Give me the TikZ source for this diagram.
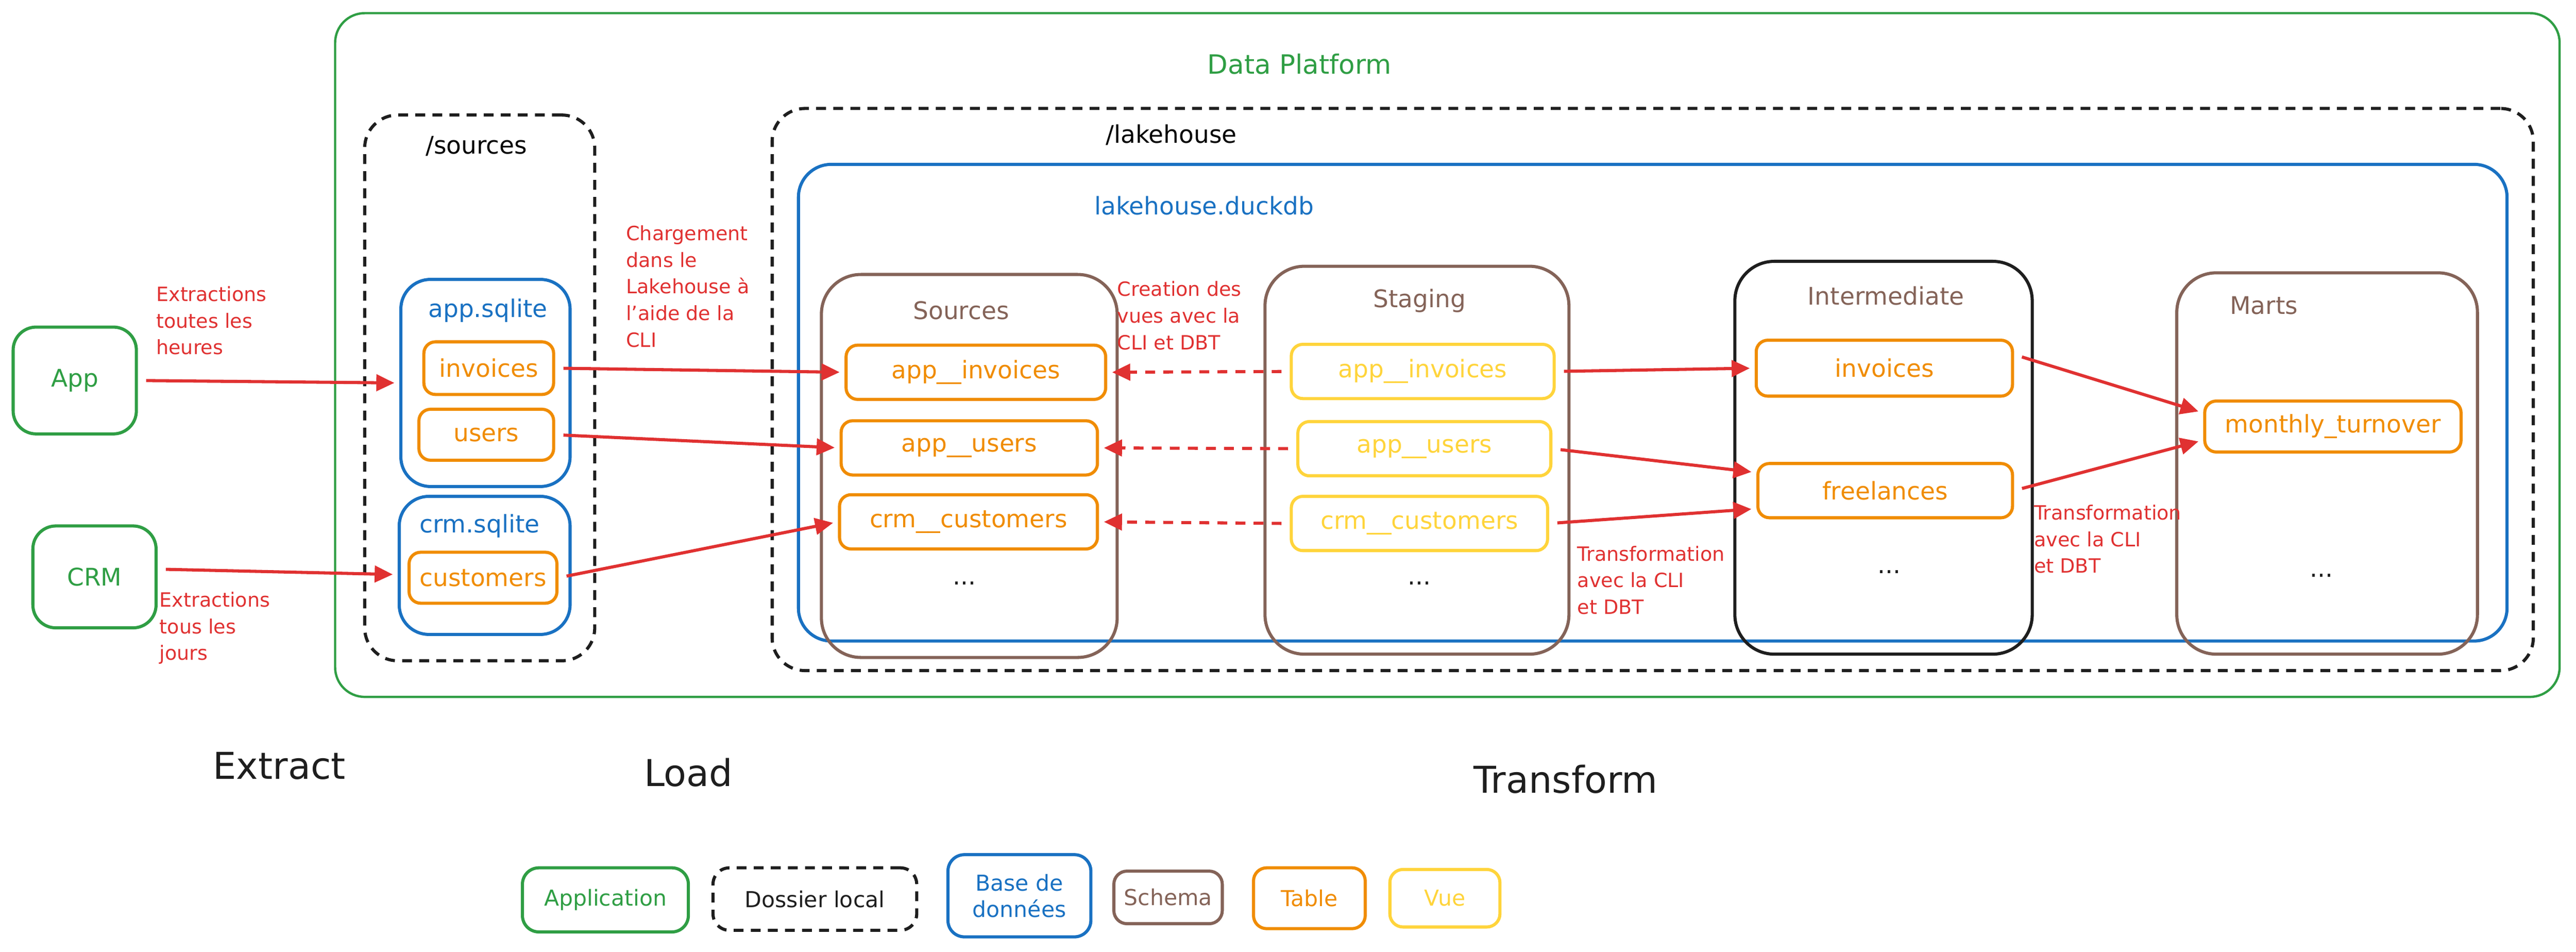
\documentclass[tikz,border=0pt]{standalone}
\usepackage{fontspec}
\setmainfont{DejaVu Sans}
\usepackage{xcolor}
\usepackage{tikz}
\usetikzlibrary{arrows.meta}
\definecolor{cVert}{HTML}{2F9E44}
\definecolor{cBleu}{HTML}{1971C2}
\definecolor{cOrange}{HTML}{F08C00}
\definecolor{cJaune}{HTML}{FFD43B}
\definecolor{cBrun}{HTML}{846358}
\definecolor{cRouge}{HTML}{E03131}
\definecolor{cNoir}{HTML}{1E1E1E}
\newcommand{\fTab}{\fontsize{21}{25}\selectfont}
\newcommand{\fTitre}{\fontsize{21}{25}\selectfont}
\newcommand{\fNote}{\fontsize{17}{23.1}\selectfont}
\newcommand{\fEtape}{\fontsize{32}{38}\selectfont}
\newcommand{\fLeg}{\fontsize{19}{23}\selectfont}
\tikzset{
  boite/.style = {rectangle, align=center, inner sep=0pt, text centered,
    line width=2.7pt, font=\fTab},
  bx_app/.style = {boite, draw=cVert, text=cVert,
    rounded corners=7mm},% application
  bx_dos/.style = {boite, draw=cNoir, text=cNoir,
    dash pattern=on 3mm off 2.2mm, rounded corners=10mm},% dossier local
  bx_bdd/.style = {boite, draw=cBleu, text=cBleu,
    rounded corners=9mm},% base de donnees
  bx_sch/.style = {boite, draw=cBrun, text=cBrun,
    rounded corners=12mm},% schema
  bx_int/.style = {bx_sch, draw=cNoir},% schema intermediate
  bx_tab/.style = {boite, draw=cOrange, text=cOrange,
    rounded corners=3.5mm, minimum height=16.5mm},% table
  bx_vue/.style = {boite, draw=cJaune, text=cJaune,
    rounded corners=3.5mm, minimum height=16.5mm},% vue
  lbl/.style = {inner sep=0pt, font=\fTitre},
  note/.style = {inner sep=0pt, align=left, anchor=north west,
    text=cRouge, font=\fNote},
  etape/.style = {inner sep=0pt, text=cNoir, font=\fEtape},
  fl/.style = {->, draw=cRouge, line width=2.7pt,
    shorten <=2.5mm, shorten >=1.5mm},% chargement / transformation
  fl_v/.style = {fl, dash pattern=on 3mm off 2.5mm}% creation des vues
}

\begin{document}
\begin{tikzpicture}[x=0.5mm,y=-0.5mm,>={Triangle[length=5.5mm,width=5mm]}]
\useasboundingbox (0,0) rectangle (1568,579);

% conteneurs
\node [bx_app, line width=2pt, rounded corners=9mm, minimum width=677mm,
  minimum height=208mm] (plateforme) at (881,216) {};
\node [lbl, text=cVert, font=\fontsize{23}{27}\selectfont] (plateforme_t)
  at (791,39) {Data Platform};
\node [bx_dos, minimum width=70mm, minimum height=166mm] (sources) at (292,236) {};
\node [lbl] (sources_t) at (290,89) {/sources};
\node [bx_dos, minimum width=536mm, minimum height=171mm] (lakehouse) at (1006,237) {};
\node [lbl] (lakehouse_t) at (713,82) {/lakehouse};
\node [bx_bdd, rounded corners=10mm, minimum width=520mm,
  minimum height=145mm] (duckdb) at (1006,245) {};
\node [lbl, text=cBleu] (duckdb_t) at (733,125) {lakehouse.duckdb};

% applications
\node [bx_app, minimum width=37.5mm, minimum height=32.5mm] (app) at (45.5,231.5) {App};
\node [bx_app, minimum width=37.5mm, minimum height=31mm] (crm) at (57.5,351) {CRM};

% bases sqlite
\node [bx_bdd, minimum width=51.5mm, minimum height=63mm] (appdb) at (295.5,233) {};
\node [lbl, text=cBleu] (appdb_t) at (297,189) {app.sqlite};
\node [bx_tab, minimum width=39.5mm, minimum height=16mm] (appdb_inv) at (297.5,224) {invoices};
\node [bx_tab, minimum width=41mm, minimum height=15.5mm] (appdb_usr) at (296,264.5) {users};
\node [bx_bdd, minimum width=52mm, minimum height=42mm] (crmdb) at (295,344) {};
\node [lbl, text=cBleu] (crmdb_t) at (292,320) {crm.sqlite};
\node [bx_tab, minimum width=45mm, minimum height=15.5mm] (crmdb_cus) at (294,351.5) {customers};

% schemas du lakehouse
\node [bx_sch, minimum width=90mm, minimum height=116.5mm] (src) at (590,283.5) {};
\node [lbl, text=cBrun] (src_t) at (585,189) {Sources};
\node [bx_tab, minimum width=79mm] (src_inv) at (594,226.5) {app\_\_invoices};
\node [bx_tab, minimum width=78mm] (src_usr) at (590,272.5) {app\_\_users};
\node [bx_tab, minimum width=78.5mm] (src_cus) at (589.5,317.5) {crm\_\_customers};
\node [lbl, text=cNoir] (src_d) at (587,355) {...};

\node [bx_sch, minimum width=92.5mm, minimum height=118mm] (stg) at (862.5,280) {};
\node [lbl, text=cBrun] (stg_t) at (864,183) {Staging};
\node [bx_vue, minimum width=80mm] (stg_inv) at (866,226) {app\_\_invoices};
\node [bx_vue, minimum width=77mm] (stg_usr) at (867,273) {app\_\_users};
\node [bx_vue, minimum width=78mm] (stg_cus) at (864,318.5) {crm\_\_customers};
\node [lbl, text=cNoir] (stg_d) at (864,355) {...};

\node [bx_int, minimum width=90.5mm, minimum height=119.5mm] (int) at (1146.5,278.5) {};
\node [lbl, text=cBrun] (int_t) at (1148,180) {Intermediate};
\node [bx_tab, minimum width=78mm, minimum height=17mm] (int_inv) at (1147,224) {invoices};
\node [bx_tab, minimum width=77.5mm] (int_fre) at (1147.5,298.5) {freelances};
\node [lbl, text=cNoir] (int_d) at (1150,348) {...};

\node [bx_sch, minimum width=91.5mm, minimum height=116mm] (mrt) at (1416.5,282) {};
\node [lbl, text=cBrun] (mrt_t) at (1378,186) {Marts};
\node [bx_tab, minimum width=78mm, minimum height=15.5mm] (mrt_mon) at (1420,259.5) {monthly\_turnover};
\node [lbl, text=cNoir] (mrt_d) at (1413,350) {...};

% annotations
\node [note] (n_ext1) at (95,174) {Extractions\\toutes les\\heures};
\node [note] (n_ext2) at (97,360) {Extractions\\tous les\\jours};
\node [note] (n_chg) at (381,137) {Chargement\\dans le\\Lakehouse à\\l'aide de la\\CLI};
\node [note] (n_vue) at (680,171) {Creation des\\vues avec la\\CLI et DBT};
\node [note] (n_tr1) at (960,332) {Transformation\\avec la CLI\\et DBT};
\node [note] (n_tr2) at (1238,307) {Transformation\\avec la CLI\\et DBT};

% fleches
\draw [fl] (app.east) -- (appdb.west);
\draw [fl] (crm.7) -- (crmdb.186);
\draw [fl] (appdb_inv.east) -- (src_inv.west);
\draw [fl] (appdb_usr.east) -- (src_usr.west);
\draw [fl] (crmdb_cus.east) -- (src_cus.west);
\draw [fl_v] (stg_inv.west) -- (src_inv.east);
\draw [fl_v] (stg_usr.west) -- (src_usr.east);
\draw [fl_v] (stg_cus.west) -- (src_cus.east);
\draw [fl] (stg_inv.east) -- (int_inv.west);
\draw [fl] (stg_usr.east) -- (int_fre.172);
\draw [fl] (stg_cus.east) -- (int_fre.188);
\draw [fl] (int_inv.6) -- (mrt_mon.174);
\draw [fl] (int_fre.east) -- (mrt_mon.186);

% etapes
\node [etape] (e_ext) at (170,466) {Extract};
\node [etape] (e_load) at (419,470) {Load};
\node [etape] (e_tr) at (953,474) {Transform};

% legende
\node [bx_app, rounded corners=5mm, font=\fLeg, minimum width=50.5mm,
  minimum height=19.5mm] (l_app) at (368.5,547.5) {Application};
\node [bx_dos, rounded corners=5mm, font=\fLeg, minimum width=62mm,
  minimum height=19mm] (l_dos) at (496,547) {Dossier local};
\node [bx_bdd, rounded corners=5mm, font=\fLeg, minimum width=43.5mm,
  minimum height=25mm] (l_bdd) at (620.5,545) {Base de\\données};
\node [bx_sch, rounded corners=4mm, font=\fLeg, minimum width=33mm,
  minimum height=16mm] (l_sch) at (711,546) {Schema};
\node [bx_tab, rounded corners=4mm, font=\fLeg, minimum width=34mm,
  minimum height=18.5mm] (l_tab) at (797,546.5) {Table};
\node [bx_vue, rounded corners=4mm, font=\fLeg, minimum width=33.5mm,
  minimum height=17.5mm] (l_vue) at (879.5,546.5) {Vue};
\end{tikzpicture}
\end{document}
